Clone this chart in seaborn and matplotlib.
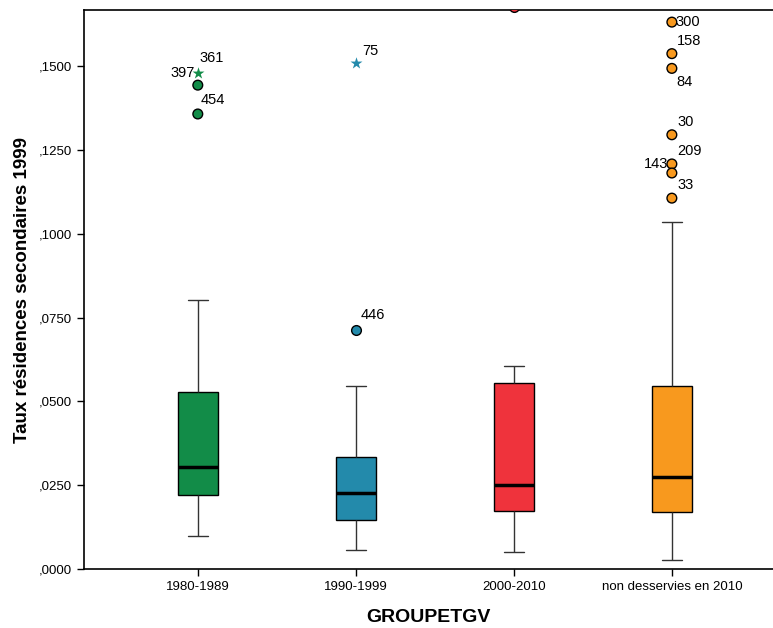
import pandas as pd
import matplotlib
matplotlib.use("Agg")
import matplotlib.pyplot as plt
from matplotlib.ticker import FuncFormatter, MultipleLocator
import seaborn as sns

# five-number summaries
groups = ["1980-1989", "1990-1999", "2000-2010", "non desservies en 2010"]
whis_lo = [0.0098, 0.0057, 0.0051, 0.0027]
q1 = [0.0221, 0.0146, 0.0172, 0.0170]
med = [0.0304, 0.0227, 0.0251, 0.0274]
q3 = [0.0529, 0.0333, 0.0556, 0.0546]
whis_hi = [0.0802, 0.0546, 0.0606, 0.1035]
colors = ["#128c48", "#238aab", "#ef333c", "#f8991e"]

# outliers (circles) and extremes (stars)
out_group = ["1980-1989", "1980-1989", "1990-1999", "2000-2010",
             "non desservies en 2010", "non desservies en 2010", "non desservies en 2010",
             "non desservies en 2010", "non desservies en 2010", "non desservies en 2010",
             "non desservies en 2010"]
out_value = [0.1443, 0.1357, 0.0713, 0.1675, 0.1631, 0.1537, 0.1493,
             0.1295, 0.1208, 0.1181, 0.1106]
star_group = ["1980-1989", "1990-1999"]
star_value = [0.1479, 0.1509]

# id labels: (group, value, text, dx, dy, ha)
labels = [
    ("1980-1989", 0.1479, "361", 2, 15, "left"),
    ("1980-1989", 0.1479, "397", -3, 0, "right"),
    ("1980-1989", 0.1357, "454", 3, 14, "left"),
    ("1990-1999", 0.1509, "75", 6, 12, "left"),
    ("1990-1999", 0.0713, "446", 5, 15, "left"),
    ("2000-2010", 0.1675, "485", 2, -14, "left"),
    ("non desservies en 2010", 0.1631, "300", 4, 0, "left"),
    ("non desservies en 2010", 0.1537, "158", 5, 13, "left"),
    ("non desservies en 2010", 0.1493, "84", 5, -14, "left"),
    ("non desservies en 2010", 0.1295, "30", 6, 13, "left"),
    ("non desservies en 2010", 0.1208, "209", 5, 13, "left"),
    ("non desservies en 2010", 0.1208, "143", -4, 0, "right"),
    ("non desservies en 2010", 0.1106, "33", 6, 13, "left"),
]

sns.set_style("ticks")
plt.rcParams["font.family"] = ["Liberation Sans", "DejaVu Sans"]
for k in ["text.color", "axes.labelcolor", "xtick.color", "ytick.color"]:
    plt.rcParams[k] = "black"

rows = []
for i, g in enumerate(groups):
    for v in [whis_lo[i], q1[i], med[i], q3[i], whis_hi[i]]:
        rows.append({"groupe": g, "taux": v})
df = pd.DataFrame(rows)
df_out = pd.DataFrame({"groupe": out_group, "taux": out_value})
df_star = pd.DataFrame({"groupe": star_group, "taux": star_value})

fig = plt.figure(figsize=(7.73, 6.28), dpi=100)
ax = fig.add_axes([0.1087, 0.094, 0.8913, 0.890])

sns.boxplot(data=df, x="groupe", y="taux", hue="groupe", order=groups,
            hue_order=groups, palette=colors, whis=(0, 100), width=0.25,
            linecolor="black", linewidth=1, showfliers=False, legend=False,
            saturation=1, medianprops={"linewidth": 2.5, "color": "black"},
            whiskerprops={"color": "#333333"}, capprops={"color": "#333333"},
            ax=ax)

sns.stripplot(data=df_out, x="groupe", y="taux", hue="groupe", order=groups,
              hue_order=groups, palette=colors, jitter=False, size=7,
              linewidth=1, edgecolor="black", legend=False, ax=ax, zorder=5)
sns.stripplot(data=df_star, x="groupe", y="taux", hue="groupe", order=groups,
              hue_order=groups, palette=colors, jitter=False, size=9,
              marker="*", linewidth=0, legend=False, ax=ax, zorder=5)

for g, v, t, dx, dy, ha in labels:
    ax.annotate(t, xy=(groups.index(g), v), xytext=(dx, dy),
                textcoords="offset pixels", ha=ha, va="center", fontsize=10.5)

ax.set_xlim(-0.72, 3.64)
ax.set_ylim(0, 0.1667)
ax.yaxis.set_major_locator(MultipleLocator(0.025))
ax.yaxis.set_major_formatter(FuncFormatter(lambda v, p: f"{v:.4f}".lstrip("0").replace(".", ",")))
ax.tick_params(axis="both", labelsize=9.5, length=5, width=1, color="black")

ax.spines["right"].set_visible(False)
for s in ["left", "bottom", "top"]:
    ax.spines[s].set_color("black")
    ax.spines[s].set_linewidth(1.2)

ax.set_xlabel("GROUPETGV", fontsize=14, fontweight="bold", labelpad=12)
ax.set_ylabel("Taux résidences secondaires 1999", fontsize=13.5, fontweight="bold", labelpad=6)

fig.savefig("out.png", dpi=100)
